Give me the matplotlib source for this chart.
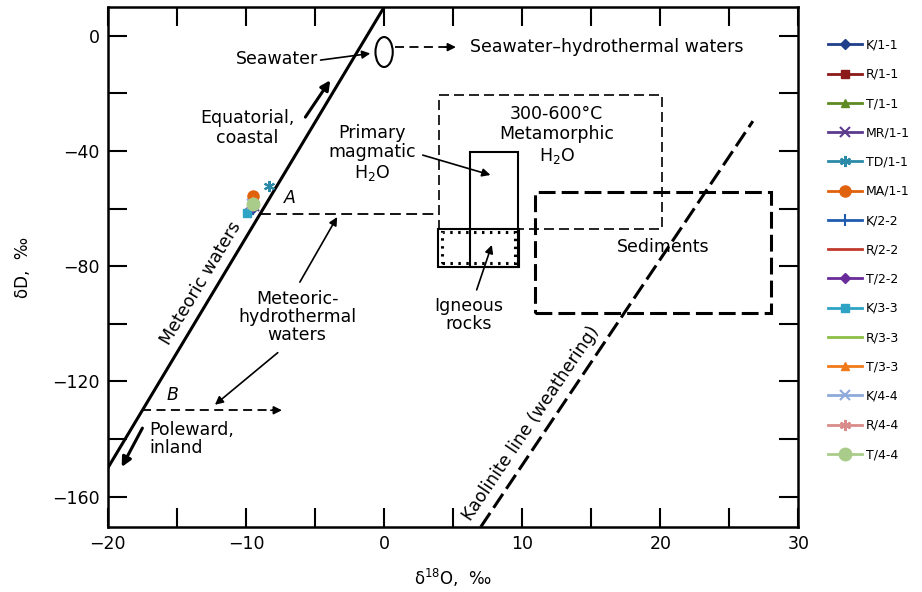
import matplotlib.pyplot as plt
from matplotlib.patches import Rectangle, Ellipse
from matplotlib.ticker import MultipleLocator

plt.rcParams['font.family'] = ['DejaVu Sans']

# water samples: delta18O and deltaD, permil
samples = ["K/1-1", "R/1-1", "T/1-1", "MR/1-1", "TD/1-1", "MA/1-1", "K/2-2", "R/2-2",
           "T/2-2", "K/3-3", "R/3-3", "T/3-3", "K/4-4", "R/4-4", "T/4-4"]
d18o = [-9.6, -9.5, -9.8, -9.4, -8.3, -9.5, -9.5, -9.6, -9.7, -9.9, -9.6, -9.5, -9.6, -9.5, -9.5]
dd = [-60.0, -58.0, -60.5, -59.0, -52.0, -55.5, -60.0, -59.0, -60.0, -61.5, -59.0, -57.0, -58.5, -58.0, -58.5]

colors = ["#1f3f8a", "#8b1a1a", "#5f8a23", "#5b3a8c", "#2a8aa8", "#e0620d", "#1f5cb0", "#c0392b",
          "#6a2c9a", "#2ea3c4", "#8cbf45", "#f07a1a", "#8eaadb", "#d98c8a", "#a9cc8a"]
markers = ["D", "s", "^", "x", (6, 2, 0), "o", "|", "None", "D", "s", "None", "^", "x", (6, 2, 0), "o"]
msizes = [5, 6, 6, 7, 8, 8, 8, 6, 5, 6, 6, 6, 7, 8, 9]

# reference lines (endpoints) and fields (x0, x1, y0, y1)
mwl_x = [-20.0, 0.0]
mwl_y = [-150.0, 10.0]
kaol_x = [7.0, 26.7]
kaol_y = [-170.5, -29.6]
metamorphic = (4.0, 20.1, -67.1, -20.5)
magmatic = (6.2, 9.7, -80.3, -40.4)
igneous = (3.9, 9.8, -80.3, -67.1)
igneous_dots = (4.2, 9.5, -78.9, -68.1)
sediments = (10.9, 28.0, -96.2, -54.2)
seawater = (0.0, -5.6)
point_a = (-8.99, -61.9)
point_b = (-17.5, -130.0)

fig = plt.figure(figsize=(9.22, 5.92), dpi=100)
ax = fig.add_axes([0.117, 0.110, 0.749, 0.878])
ax.set_xlim(-20, 30)
ax.set_ylim(-170.5, 10)

ax.plot(mwl_x, mwl_y, color='k', lw=2.2, zorder=3)
ax.plot(kaol_x, kaol_y, color='k', lw=2.2, dashes=(5.5, 2.0), zorder=3)


def box(b, **kw):
    ax.add_patch(Rectangle((b[0], b[2]), b[1] - b[0], b[3] - b[2], fill=False,
                           edgecolor='k', **kw))


box(metamorphic, lw=1.2, linestyle=(0, (6, 3)))
box(magmatic, lw=1.5)
box(igneous, lw=1.5)
box(igneous_dots, lw=2.2, linestyle=(0, (0.8, 1.8)))
box(sediments, lw=2.2, linestyle=(0, (5.5, 2.0)))
ax.add_patch(Ellipse(seawater, 1.25, 10.4, fill=False, edgecolor='k', lw=1.5))

# hydrothermal shift lines
ax.plot([point_a[0], metamorphic[0]], [point_a[1], point_a[1]], color='k', lw=1.3,
        dashes=(6, 3))
ax.plot([point_b[0], -7.9], [point_b[1], point_b[1]], color='k', lw=1.3, dashes=(5, 3))
ax.annotate("", xy=(-7.4, point_b[1]), xytext=(-8.2, point_b[1]),
            arrowprops=dict(arrowstyle='-|>', color='k', lw=1.2, mutation_scale=12,
                            shrinkA=0, shrinkB=0))
ax.plot([0.8, 4.6], [-3.9, -3.9], color='k', lw=1.3, dashes=(5, 3))
ax.annotate("", xy=(5.2, -3.9), xytext=(4.4, -3.9),
            arrowprops=dict(arrowstyle='-|>', color='k', lw=1.2, mutation_scale=12,
                            shrinkA=0, shrinkB=0))

thin = dict(arrowstyle='-|>', color='k', lw=1.2, mutation_scale=12, shrinkA=0, shrinkB=0)
heavy = dict(arrowstyle='-|>', color='k', lw=2.2, mutation_scale=14, shrinkA=0, shrinkB=0)
for tail, head, style in [((-4.6, -8.4), (-1.0, -6.1), thin),
                          ((2.8, -41.4), (7.7, -48.3), thin),
                          ((-6.1, -85.5), (-3.4, -62.9), thin),
                          ((-7.7, -110.0), (-12.25, -128.1), thin),
                          ((6.7, -88.2), (7.8, -72.6), thin),
                          ((-5.7, -28.2), (-3.9, -15.4), heavy),
                          ((-17.5, -136.2), (-19.0, -149.7), heavy)]:
    ax.annotate("", xy=head, xytext=tail, arrowprops=style)

fs = 12.5
ax.text(-4.8, -8.1, "Seawater", ha='right', va='center', fontsize=fs)
ax.text(6.2, -3.9, "Seawater\u2013hydrothermal waters", ha='left', va='center', fontsize=fs)
ax.text(-9.9, -32.0, "Equatorial,\ncoastal", ha='center', va='center', fontsize=fs)
ax.text(-0.87, -40.7, "Primary\nmagmatic\nH$_2$O", ha='center', va='center', fontsize=fs,
        linespacing=1.1)
ax.text(12.5, -34.6, "300-600\u00b0C\nMetamorphic\nH$_2$O", ha='center', va='center',
        fontsize=fs, linespacing=1.15)
ax.text(-6.8, -56.3, "A", ha='center', va='center', fontsize=fs, style='italic')
ax.text(-15.3, -124.7, "B", ha='center', va='center', fontsize=fs, style='italic')
ax.text(-13.3, -85.8, "Meteoric waters", ha='center', va='center', fontsize=fs,
        rotation=59, rotation_mode='anchor')
ax.text(-6.3, -97.6, "Meteoric-\nhydrothermal\nwaters", ha='center', va='center',
        fontsize=fs, linespacing=1.0)
ax.text(6.1, -97.0, "Igneous\nrocks", ha='center', va='center', fontsize=fs,
        linespacing=1.0)
ax.text(-17.0, -140.0, "Poleward,\ninland", ha='left', va='center', fontsize=fs,
        linespacing=1.0)
ax.text(20.2, -73.3, "Sediments", ha='center', va='center', fontsize=fs)
ax.text(10.6, -134.4, "Kaolinite line (weathering)", ha='center', va='center', fontsize=fs,
        rotation=56, rotation_mode='anchor')

for name, x, y, c, m, s in zip(samples, d18o, dd, colors, markers, msizes):
    ax.plot([x], [y], color=c, marker=m, markersize=s, lw=2, linestyle='-',
            markeredgewidth=1.5 if m in ("x", "|") or isinstance(m, tuple) else 1,
            label=name, zorder=5)

ax.xaxis.set_major_locator(MultipleLocator(10))
ax.xaxis.set_minor_locator(MultipleLocator(5))
ax.yaxis.set_major_locator(MultipleLocator(40))
ax.yaxis.set_minor_locator(MultipleLocator(20))
ax.tick_params(which='both', direction='in', length=14, width=1.5, top=True, right=True,
               labelsize=fs, pad=6)
for sp in ax.spines.values():
    sp.set_linewidth(1.8)
ax.set_xlabel("\u03b4$^{18}$O,  \u2030", fontsize=12, labelpad=10)
ax.set_ylabel("\u03b4D,  \u2030", fontsize=12, labelpad=14)

fig.legend(loc='upper left', bbox_to_anchor=(0.893, 0.943), frameon=False, fontsize=9,
           handlelength=2.7, handletextpad=0.3, labelspacing=1.3, borderaxespad=0)

fig.savefig("out.png", dpi=100)
